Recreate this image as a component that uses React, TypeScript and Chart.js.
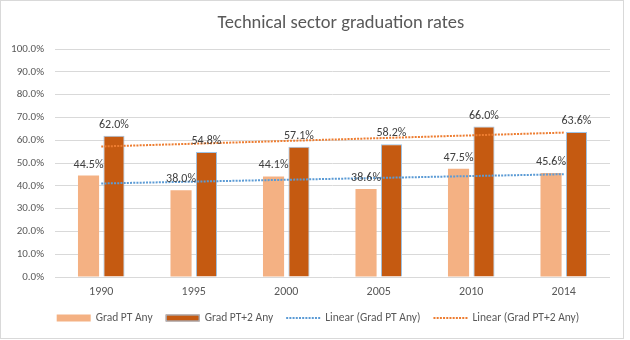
import React, { useEffect, useRef } from "react";
import { Chart, registerables } from "chart.js";

Chart.register(...registerables);

const chartTitle = "Technical sector graduation rates";
const categories = ["1990", "1995", "2000", "2005", "2010", "2014"];
const gradPTAny = [44.5, 38.0, 44.1, 38.6, 47.5, 45.6];
const gradPT2Any = [62.0, 54.8, 57.1, 58.2, 66.0, 63.6];
const seriesNames = [
  "Grad PT Any",
  "Grad PT+2 Any",
  "Linear (Grad PT Any)",
  "Linear (Grad PT+2 Any)",
];
const yMin = 0;
const yMax = 100;
const yStep = 10;

const FONT = "Carlito, Lato, sans-serif";
const TEXT = "#595959";
const LIGHT = "#F4B183";
const DARK = "#C55A11";
const DARK_BORDER = "#9DC3E6";
const BLUE = "#5B9BD5";
const ORANGE = "#ED7D31";

// Least-squares linear trendline (like Excel's "Linear" trendline), x = 1..n
function linearTrend(values: number[]): number[] {
  const n = values.length;
  const xs = values.map((_, i) => i + 1);
  const mx = xs.reduce((a, b) => a + b, 0) / n;
  const my = values.reduce((a, b) => a + b, 0) / n;
  let sxy = 0;
  let sxx = 0;
  xs.forEach((x, i) => {
    sxy += (x - mx) * (values[i] - my);
    sxx += (x - mx) * (x - mx);
  });
  const slope = sxy / sxx;
  const icpt = my - slope * mx;
  return xs.map((x) => icpt + slope * x);
}

const titlePlugin = {
  id: "customTitle",
  afterDraw(chart: any) {
    const { ctx, chartArea } = chart;
    ctx.save();
    ctx.font = `18.5px ${FONT}`;
    ctx.fillStyle = TEXT;
    ctx.textAlign = "center";
    ctx.textBaseline = "alphabetic";
    const cx = chartArea.left + (chartArea.right - chartArea.left) * 0.515;
    ctx.fillText(chartTitle, cx, 27);
    ctx.restore();
  },
};

const dataLabelPlugin = {
  id: "barLabels",
  afterDatasetsDraw(chart: any) {
    const { ctx } = chart;
    ctx.save();
    ctx.font = `12px ${FONT}`;
    ctx.fillStyle = "#404040";
    ctx.textAlign = "center";
    ctx.textBaseline = "bottom";
    chart.data.datasets.forEach((ds: any, di: number) => {
      if (ds.type !== "bar") return;
      const meta = chart.getDatasetMeta(di);
      meta.data.forEach((el: any, i: number) => {
        const v = ds.data[i] as number;
        ctx.fillText(v.toFixed(1) + "%", el.x, el.y - 5);
      });
    });
    ctx.restore();
  },
};

const legendPlugin = {
  id: "customLegend",
  afterDraw(chart: any) {
    const { ctx } = chart;
    const boxW = 34;
    const boxH = 7;
    const gapText = 5;
    const gapItem = 13;
    ctx.save();
    ctx.font = `11.5px ${FONT}`;
    const items = chart.data.datasets.map((ds: any) => ds);
    const order = [0, 1, 2, 3];
    const widths = order.map(
      (i) => boxW + gapText + ctx.measureText(items[i].label).width
    );
    const total = widths.reduce((a, b) => a + b, 0) + gapItem * (order.length - 1);
    let x = chart.width / 2 + 6 - total / 2;
    const y = 317;
    order.forEach((i, k) => {
      const ds = items[i];
      if (ds.type === "bar") {
        ctx.fillStyle = ds.backgroundColor;
        ctx.fillRect(x, y - boxH / 2, boxW, boxH);
        if (ds.borderWidth) {
          ctx.strokeStyle = ds.borderColor;
          ctx.lineWidth = 1;
          ctx.strokeRect(x + 0.5, y - boxH / 2 + 0.5, boxW - 1, boxH - 1);
        }
      } else {
        ctx.strokeStyle = ds.borderColor;
        ctx.lineWidth = 2;
        ctx.setLineDash(ds.borderDash || []);
        ctx.beginPath();
        ctx.moveTo(x, y);
        ctx.lineTo(x + boxW, y);
        ctx.stroke();
        ctx.setLineDash([]);
      }
      ctx.fillStyle = TEXT;
      ctx.textAlign = "left";
      ctx.textBaseline = "middle";
      ctx.fillText(ds.label, x + boxW + gapText, y);
      x += widths[k] + gapItem;
    });
    ctx.restore();
  },
};

export default function App() {
  const canvasRef = useRef<HTMLCanvasElement | null>(null);

  useEffect(() => {
    if (!canvasRef.current) return;
    const chart = new Chart(canvasRef.current, {
      type: "bar",
      data: {
        labels: categories,
        datasets: [
          {
            type: "bar",
            label: seriesNames[0],
            data: gradPTAny,
            backgroundColor: LIGHT,
            borderWidth: 0,
            order: 1,
          },
          {
            type: "bar",
            label: seriesNames[1],
            data: gradPT2Any,
            backgroundColor: DARK,
            borderColor: DARK_BORDER,
            borderWidth: 1,
            order: 1,
          },
          {
            type: "line",
            label: seriesNames[2],
            data: linearTrend(gradPTAny),
            borderColor: BLUE,
            borderWidth: 2,
            borderDash: [2, 1.2],
            pointRadius: 0,
            fill: false,
            order: 0,
          },
          {
            type: "line",
            label: seriesNames[3],
            data: linearTrend(gradPT2Any),
            borderColor: ORANGE,
            borderWidth: 2,
            borderDash: [2, 1.2],
            pointRadius: 0,
            fill: false,
            order: 0,
          },
        ] as any,
      },
      options: {
        responsive: false,
        animation: false,
        devicePixelRatio: 1,
        datasets: {
          bar: { categoryPercentage: 0.55, barPercentage: 0.83 },
        },
        layout: { padding: { top: 48, right: 13, bottom: 30, left: 0 } },
        plugins: {
          legend: { display: false },
          title: { display: false },
          tooltip: { enabled: false },
        },
        scales: {
          x: {
            grid: { display: false, drawTicks: false },
            border: { display: false },
            ticks: {
              color: TEXT,
              font: { family: FONT, size: 12 },
              padding: 8,
            },
            afterFit: (s: any) => {
              s.height = 31;
            },
          },
          y: {
            min: yMin,
            max: yMax,
            grid: { color: "#D9D9D9", drawTicks: false, lineWidth: 1 },
            border: { display: false },
            ticks: {
              stepSize: yStep,
              color: TEXT,
              font: { family: FONT, size: 11 },
              padding: 11,
              callback: (v: any) => Number(v).toFixed(1) + "%",
            },
            afterFit: (s: any) => {
              s.width = 54;
            },
          },
        },
      },
      plugins: [titlePlugin, dataLabelPlugin, legendPlugin],
    });
    return () => chart.destroy();
  }, []);

  return (
    <div
      style={{
        position: "absolute",
        left: 0,
        top: 0,
        width: 624,
        height: 339,
        border: "1px solid #D9D9D9",
        boxSizing: "border-box",
        background: "#FFFFFF",
      }}
    >
      <canvas
        ref={canvasRef}
        width={622}
        height={337}
        style={{ display: "block", width: 622, height: 337 }}
      />
    </div>
  );
}
